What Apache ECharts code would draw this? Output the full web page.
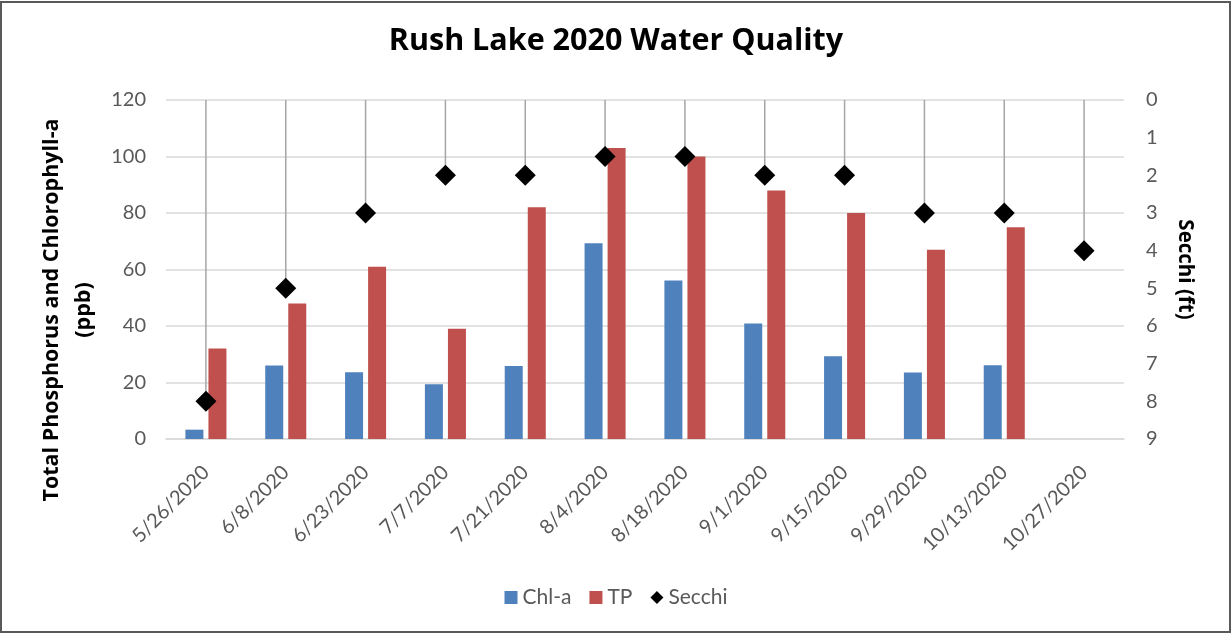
<!DOCTYPE html>
<html>
<head>
<meta charset="utf-8">
<script src="https://cdn.jsdelivr.net/npm/echarts@6/dist/echarts.min.js"></script>
<style>
html,body{margin:0;padding:0;background:#fff;}
#chart{width:1232px;height:635px;}
</style>
</head>
<body>
<div id="chart"></div>
<script>
const categories = ['5/26/2020','6/8/2020','6/23/2020','7/7/2020','7/21/2020','8/4/2020','8/18/2020','9/1/2020','9/15/2020','9/29/2020','10/13/2020','10/27/2020'];
const chla = [3.3, 26, 23.6, 19.4, 25.8, 69.3, 56.1, 40.9, 29.3, 23.5, 26.1, null];
const tp = [32, 48, 61, 39, 82, 103, 100, 88, 80, 67, 75, null];
const secchi = [8, 5, 3, 2, 2, 1.5, 1.5, 2, 2, 3, 3, 4];
const leftTicks = [0, 20, 40, 60, 80, 100, 120];
const rightTicks = [0, 1, 2, 3, 4, 5, 6, 7, 8, 9];

const FONT = 'Lato';
const BOLDFONT = 'Open Sans';
const chart = echarts.init(document.getElementById('chart'));
chart.setOption({
  backgroundColor: '#fff',
  animation: false,
  textStyle: { fontFamily: FONT },
  title: {
    text: 'Rush Lake 2020 Water Quality',
    left: 'center', top: 21,
    textStyle: { fontFamily: BOLDFONT, fontSize: 30.5, fontWeight: 'bold', color: '#000' }
  },
  grid: { left: 166, right: 108, top: 100, bottom: 196, containLabel: false },
  legend: {
    data: [
      { name: 'Chl-a', icon: 'rect' },
      { name: 'TP', icon: 'rect' },
      { name: 'Secchi', icon: 'diamond', itemStyle: { opacity: 1 } }
    ],
    bottom: 22, left: 'center',
    itemWidth: 13, itemHeight: 13, itemGap: 18,
    textStyle: { fontFamily: FONT, fontSize: 21, color: '#595959' }
  },
  xAxis: [
    {
      type: 'category', data: categories,
      axisLine: { lineStyle: { color: '#d9d9d9', width: 1.5 } },
      axisTick: { show: false },
      axisLabel: { rotate: 45, fontSize: 20, color: '#595959', margin: 30, interval: 0, fontFamily: FONT }
    },
    {
      type: 'category', data: categories, show: false
    }
  ],
  yAxis: [
    {
      type: 'value', min: leftTicks[0], max: leftTicks[leftTicks.length - 1], interval: 20,
      axisLine: { show: false }, axisTick: { show: false },
      axisLabel: { fontSize: 20, color: '#595959', margin: 20, fontFamily: FONT },
      splitLine: { lineStyle: { color: '#d9d9d9', width: 1.5 } }
    },
    {
      type: 'value', inverse: true, min: rightTicks[0], max: rightTicks[rightTicks.length - 1], interval: 1,
      axisLine: { show: false }, axisTick: { show: false },
      axisLabel: { fontSize: 20, color: '#595959', margin: 22, fontFamily: FONT },
      splitLine: { show: false },
      name: 'Secchi (ft)', nameLocation: 'middle', nameGap: 50, nameRotate: -90,
      nameTextStyle: { fontFamily: BOLDFONT, fontSize: 20.5, fontWeight: 'bold', color: '#000' }
    }
  ],
  graphic: [
    {
      type: 'text', x: 52, y: 310, rotation: Math.PI / 2,
      style: { text: 'Total Phosphorus and Chlorophyll-a', fontFamily: BOLDFONT, fontSize: 21.5, fontWeight: 'bold', fill: '#000', align: 'center', verticalAlign: 'middle' }
    },
    {
      type: 'text', x: 84, y: 310, rotation: Math.PI / 2,
      style: { text: '(ppb)', fontFamily: BOLDFONT, fontSize: 21.5, fontWeight: 'bold', fill: '#000', align: 'center', verticalAlign: 'middle' }
    },
    {
      type: 'rect', shape: { x: 1, y: 2, width: 1229, height: 630 },
      style: { fill: 'none', stroke: '#595959', lineWidth: 2 }, silent: true
    }
  ],
  series: [
    {
      name: 'Chl-a', type: 'bar', xAxisIndex: 0, yAxisIndex: 0, data: chla,
      barWidth: 18, barGap: '28%',
      itemStyle: { color: '#4f81bd' }
    },
    {
      name: 'TP', type: 'bar', xAxisIndex: 0, yAxisIndex: 0, data: tp,
      barWidth: 18, barGap: '28%',
      itemStyle: { color: '#c0504d' }
    },
    {
      name: 'drop', type: 'bar', xAxisIndex: 1, yAxisIndex: 1, data: secchi,
      barWidth: 1.5, itemStyle: { color: '#a6a6a6' }, silent: true, z: 3
    },
    {
      name: 'Secchi', type: 'scatter', xAxisIndex: 0, yAxisIndex: 1, data: secchi,
      symbol: 'diamond', symbolSize: [21, 21],
      itemStyle: { color: '#000', opacity: 1 }, z: 5
    }
  ]
});
</script>
</body>
</html>
